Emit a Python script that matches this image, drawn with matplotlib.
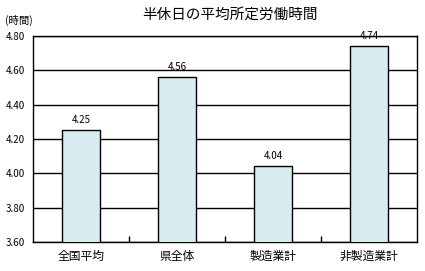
import matplotlib
matplotlib.use("Agg")
import matplotlib.pyplot as plt
import numpy as np

plt.rcParams['font.family'] = ['Noto Sans CJK JP', 'DejaVu Sans']

categories = ["全国平均", "県全体", "製造業計", "非製造業計"]
values = [4.25, 4.56, 4.04, 4.74]
yticks = [3.60, 3.80, 4.00, 4.20, 4.40, 4.60, 4.80]

fig = plt.figure(figsize=(4.25, 2.71), dpi=100)
ax = fig.add_axes([0.078, 0.107, 0.903, 0.760])

x = np.arange(len(categories))
ax.bar(x, values, width=0.4, color="#D6ECF0", edgecolor="black", linewidth=1.0, zorder=3)

for xi, v in zip(x, values):
    ax.text(xi, v + 0.03, f"{v:.2f}", ha="center", va="bottom", fontsize=7, zorder=4)

ax.set_xlim(-0.5, len(categories) - 0.5)
ax.set_ylim(3.60, 4.80)
ax.set_yticks(yticks)
ax.set_yticklabels([f"{t:.2f}" for t in yticks], fontsize=7)
ax.yaxis.grid(True, color="black", linewidth=1.0, zorder=0)
ax.set_axisbelow(True)
ax.tick_params(axis="y", length=0, pad=6)

ax.set_xticks(x)
ax.set_xticklabels(categories, fontsize=8.5)
ax.tick_params(axis="x", length=0, pad=6)
ax.set_xticks(np.arange(0.5, len(categories) - 0.5, 1.0), minor=True)
ax.tick_params(axis="x", which="minor", direction="in", length=4, width=1.0)

for s in ax.spines.values():
    s.set_linewidth(1.0)
    s.set_color("black")

fig.text(0.54, 0.945, "半休日の平均所定労働時間", ha="center", va="center", fontsize=10.5)
fig.text(0.012, 0.925, "(時間)", ha="left", va="center", fontsize=7.5)

fig.savefig("out.png", dpi=100)
